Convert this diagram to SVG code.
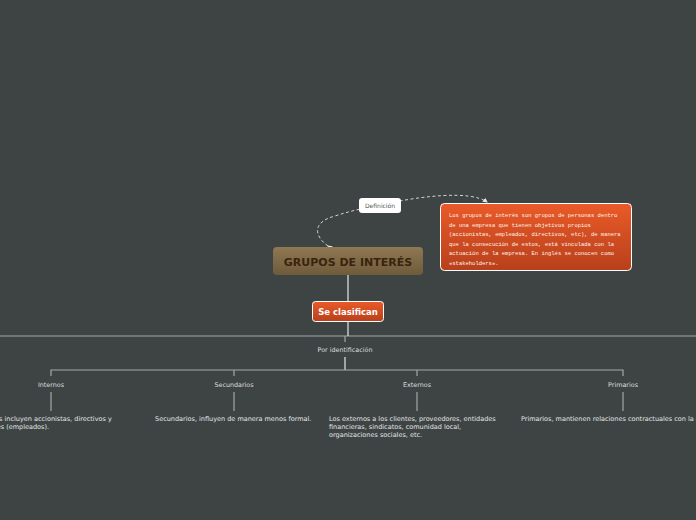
<svg xmlns="http://www.w3.org/2000/svg" width="696" height="520" viewBox="0 0 696 520">
<defs>
<linearGradient id="gBrown" x1="0" y1="0" x2="0" y2="1"><stop offset="0" stop-color="#8f7852"/><stop offset="1" stop-color="#6e5b3b"/></linearGradient>
<linearGradient id="gOrange" x1="0" y1="0" x2="0" y2="1"><stop offset="0" stop-color="#ea5a28"/><stop offset="1" stop-color="#b8401c"/></linearGradient>
<marker id="arr" markerWidth="6" markerHeight="6" refX="4" refY="3" orient="auto" markerUnits="userSpaceOnUse"><path d="M0,0.5 L5,3 L0,5.5 Z" fill="#e8e8e8"/></marker>
<style>
.ln{stroke:#a3a7a7;stroke-width:1.2;fill:none}
.lw{stroke:#d8dada;stroke-width:1.3;fill:none}
.lbl{font-family:"DejaVu Sans",Verdana,sans-serif;font-size:6.4px;fill:#dcdede}
.desc{font-family:"DejaVu Sans",Verdana,sans-serif;font-size:6.5px;fill:#e2e4e4}
.mono{font-family:"Liberation Mono","Courier New",monospace;font-size:5.5px;fill:#fff4ee}
</style>
</defs>
<rect width="696" height="520" fill="#3e4444"/>
<g id="connectors">
<path class="ln" d="M0,336 H696" stroke="#8e9393"/>
<path class="lw" d="M348,275 V301 M348,321 V336"/>
<path class="ln" d="M345,336 V342" stroke="#777c7c"/>
<path class="lw" d="M345,357 V370"/>
<path class="ln" d="M51,376 V370 H623 V376 M234,370 V376 M417,370 V376"/>
<path class="ln" d="M51,392 V411 M234,392 V411 M417,392 V411 M623,392 V411"/>
<path d="M328,246 C314,236 312,222 335,216 C350,211 360,209 380,205 C420,196 470,190 487,202" fill="none" stroke="#d0d3d3" stroke-width="1" stroke-dasharray="3,2.5" marker-start="url(#arr)" marker-end="url(#arr)"/>
</g>
<g id="main">
<rect x="273" y="247" width="150" height="28" rx="4" fill="url(#gBrown)"/>
<text x="348" y="266" text-anchor="middle" font-family="DejaVu Sans,Verdana,sans-serif" font-weight="bold" font-size="11px" fill="#3a230f">GRUPOS DE INTERÉS</text>
</g>
<g id="se-clasifican">
<rect x="312.5" y="301.5" width="71" height="20" rx="3" fill="url(#gOrange)" stroke="#ffffff" stroke-width="1"/>
<text x="348" y="315" text-anchor="middle" font-family="DejaVu Sans,Verdana,sans-serif" font-weight="bold" font-size="8.5px" fill="#ffffff">Se clasifican</text>
</g>
<g id="definicion-label">
<rect x="359" y="198" width="42" height="15" rx="3" fill="#ffffff"/>
<text x="380" y="208" text-anchor="middle" font-family="DejaVu Sans,Verdana,sans-serif" font-size="6px" fill="#555">Definición</text>
</g>
<g id="definicion">
<rect x="440.5" y="203.5" width="191" height="67" rx="4" fill="url(#gOrange)" stroke="#ffffff" stroke-width="1"/>
<text class="mono"><tspan x="449" y="217">Los grupos de interés son grupos de personas dentro</tspan><tspan x="449" y="226.5">de una empresa que tienen objetivos propios</tspan><tspan x="449" y="236">(accionistas, empleados, directivos, etc), de manera</tspan><tspan x="449" y="245.5">que la consecución de estos, está vinculada con la</tspan><tspan x="449" y="255">actuación de la empresa. En inglés se conocen como</tspan><tspan x="449" y="264.5">«stakeholders».</tspan></text>
</g>
<g id="por-identificacion"><text class="lbl" x="345" y="352" text-anchor="middle">Por identificación</text></g>
<g id="internos"><text class="lbl" x="51" y="387" text-anchor="middle">Internos</text></g>
<g id="secundarios"><text class="lbl" x="234" y="387" text-anchor="middle">Secundarios</text></g>
<g id="externos"><text class="lbl" x="417" y="387" text-anchor="middle">Externos</text></g>
<g id="primarios"><text class="lbl" x="623" y="387" text-anchor="middle">Primarios</text></g>
<g id="internos-desc"><text class="desc"><tspan x="-37" y="421">Los internos incluyen accionistas, directivos y</tspan><tspan x="-37" y="429">trabajadores (empleados).</tspan></text></g>
<g id="secundarios-desc"><text class="desc" x="155" y="421">Secundarios, influyen de manera menos formal.</text></g>
<g id="externos-desc"><text class="desc"><tspan x="329" y="421">Los externos a los clientes, proveedores, entidades</tspan><tspan x="329" y="429">financieras, sindicatos, comunidad local,</tspan><tspan x="329" y="437">organizaciones sociales, etc.</tspan></text></g>
<g id="primarios-desc"><text class="desc" x="521" y="421">Primarios, mantienen relaciones contractuales con la empresa.</text></g>
</svg>
